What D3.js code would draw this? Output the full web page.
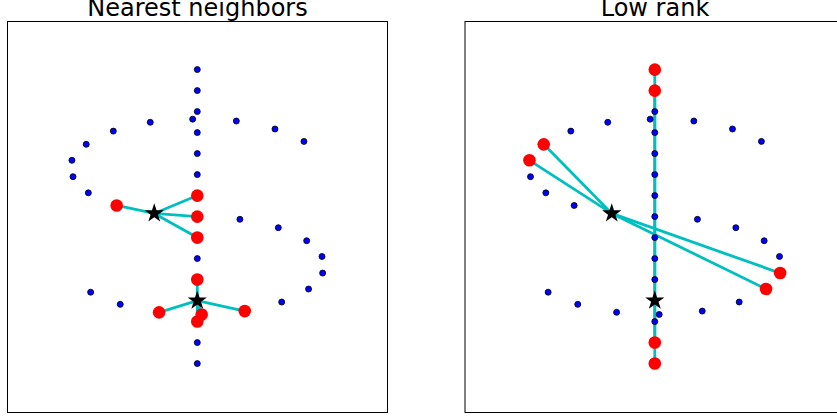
<!DOCTYPE html>
<html>
<head>
<meta charset="utf-8">
<script src="https://d3js.org/d3.v7.min.js"></script>
<style>
  body { margin: 0; background: #fff; }
  .title { font-family: "DejaVu Sans", sans-serif; font-size: 24px; text-anchor: middle; fill: #000; }
  .frame { fill: none; stroke: #000; stroke-width: 1; }
</style>
</head>
<body>
<script>
// points of the vertical stalk (x = 0)
var stalkY = [7, 6, 5, 4, 3, 2, 1, 0, -1, -2, -3, -4, -5, -6, -7];

// points of the S curve
var curveX = [5.08, 3.70, 1.86, -0.22, -2.24, -4.00, -5.29, -5.97, -5.92, -5.19, -3.84, -2.05,
              2.03, 3.86, 5.21, 5.94, 5.97, 5.30, 4.02, 2.26, 0.21, -1.82, -3.67, -5.08];
var curveY = [3.58, 4.17, 4.55, 4.64, 4.49, 4.07, 3.44, 2.68, 1.90, 1.13, 0.53, 0.15,
              -0.13, -0.53, -1.15, -1.90, -2.69, -3.45, -4.07, -4.50, -4.66, -4.56, -4.18, -3.60];

// query points (stars)
var queryX = [-2.05, 0];
var queryY = [0.15, -4];

// neighbours found by each method, one list per query
var nnX = [[-3.84, 0, 0, 0], [0, 0, 0.21, -1.82, 2.26]];
var nnY = [[0.53, 1, 0, -1], [-3, -5, -4.66, -4.56, -4.50]];
var lrX = [[-5.29, -5.97, 5.97, 5.30], [0, 0, 0, 0]];
var lrY = [[3.44, 2.68, -2.69, -3.45], [7, 6, -6, -7]];

var panels = [
  {title: "Nearest neighbors", left: 7.5, nx: nnX, ny: nnY},
  {title: "Low rank", left: 465, nx: lrX, ny: lrY}
];

var panelTop = 21.5, w = 380, h = 391;

var svg = d3.select("body").append("svg")
  .attr("width", 837)
  .attr("height", 419);

var points = stalkY.map(function(y) { return {x: 0, y: y}; })
  .concat(curveX.map(function(x, i) { return {x: x, y: curveY[i]}; }));

panels.forEach(function(p) {
  var x = d3.scaleLinear().domain([-9.04, 9.06]).range([0, w]);
  var y = d3.scaleLinear().domain([9.29, -9.33]).range([0, h]);

  var g = svg.append("g")
    .attr("transform", "translate(" + p.left + "," + panelTop + ")");

  g.append("rect")
    .attr("class", "frame")
    .attr("width", w)
    .attr("height", h);

  svg.append("text")
    .attr("class", "title")
    .attr("x", p.left + w / 2)
    .attr("y", 15.5)
    .text(p.title);

  // links from each query to its neighbours
  queryX.forEach(function(qx, q) {
    p.nx[q].forEach(function(nx, k) {
      g.append("line")
        .attr("x1", x(qx)).attr("y1", y(queryY[q]))
        .attr("x2", x(nx)).attr("y2", y(p.ny[q][k]))
        .attr("stroke", "#00bfbf")
        .attr("stroke-width", 2.8);
    });
  });

  g.selectAll(".pt")
    .data(points)
    .enter().append("circle")
      .attr("class", "pt")
      .attr("cx", function(d) { return x(d.x); })
      .attr("cy", function(d) { return y(d.y); })
      .attr("r", 3)
      .attr("fill", "#0000ff")
      .attr("stroke", "#000")
      .attr("stroke-width", 0.8);

  queryX.forEach(function(qx, q) {
    p.nx[q].forEach(function(nx, k) {
      g.append("circle")
        .attr("cx", x(nx))
        .attr("cy", y(p.ny[q][k]))
        .attr("r", 6.3)
        .attr("fill", "#ff0000");
    });
  });

  queryX.forEach(function(qx, q) {
    g.append("path")
      .attr("d", d3.symbol().type(d3.symbolStar).size(115)())
      .attr("transform", "translate(" + x(qx) + "," + y(queryY[q]) + ")")
      .attr("fill", "#000");
  });
});
</script>
</body>
</html>
